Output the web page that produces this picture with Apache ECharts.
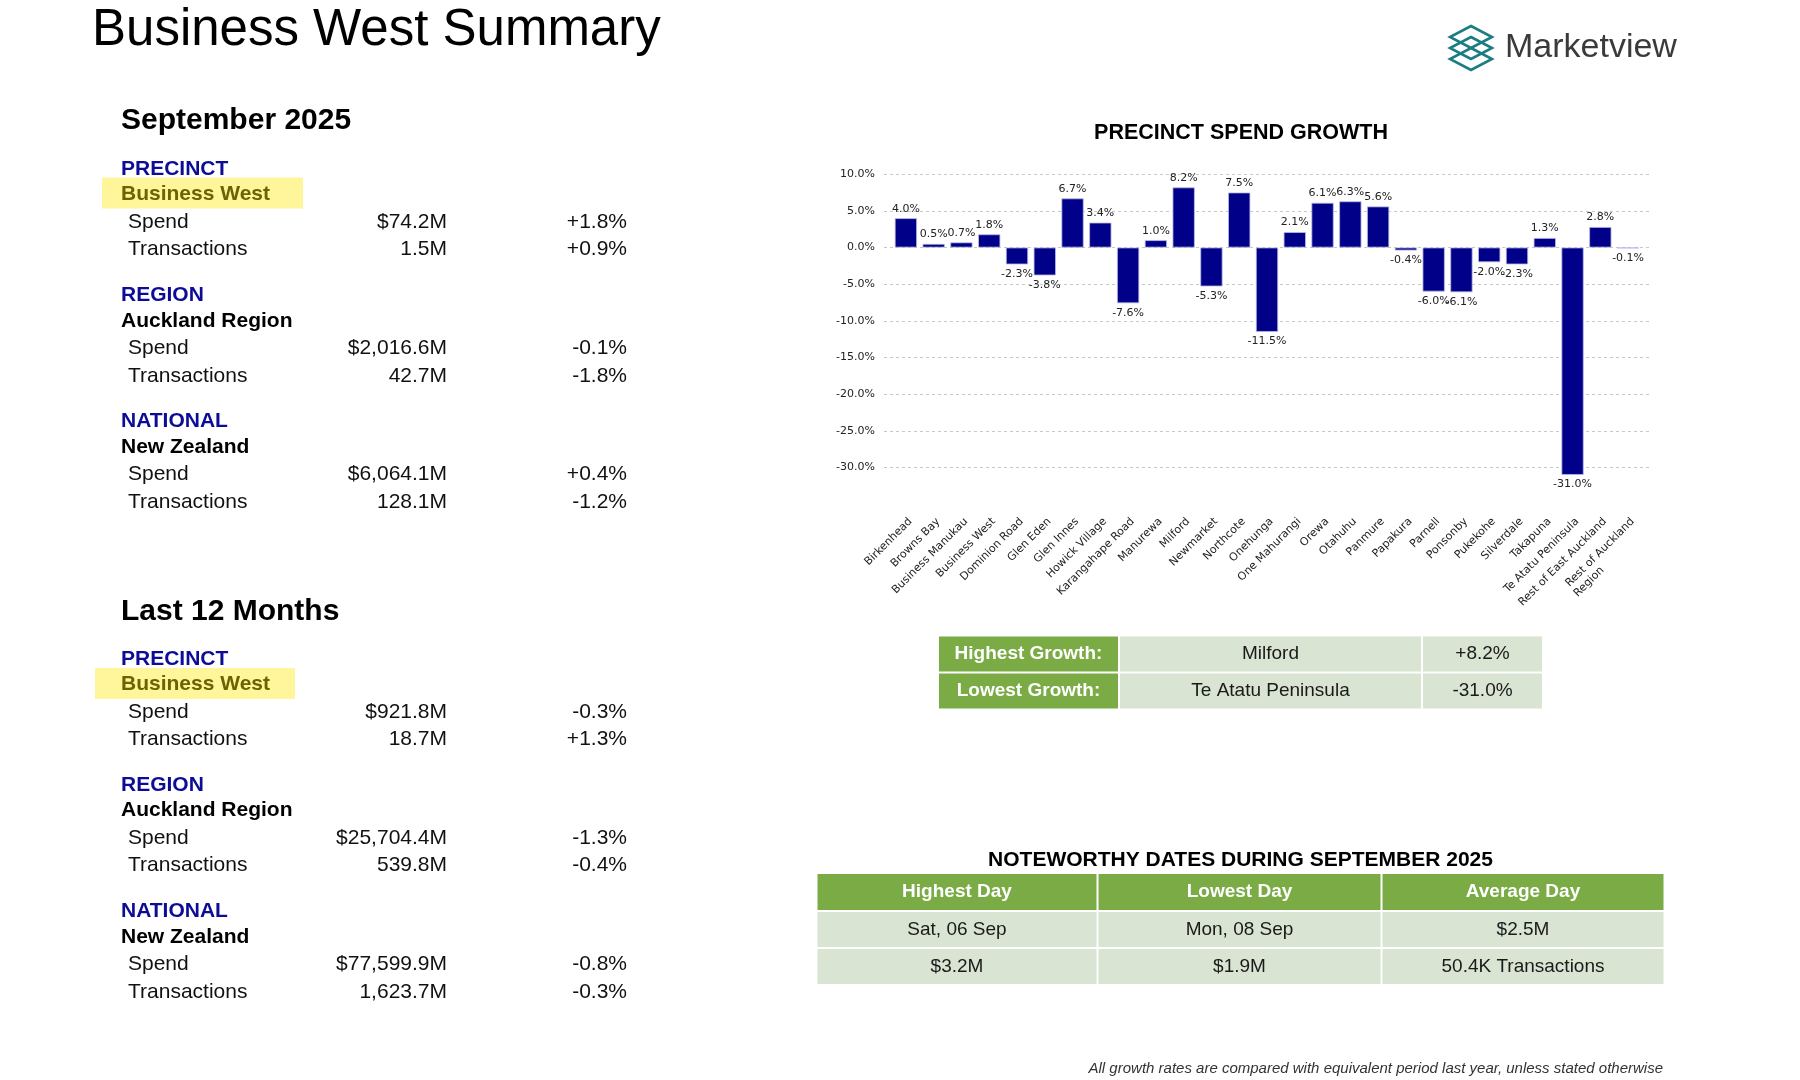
<!DOCTYPE html>
<html>
<head>
<meta charset="utf-8">
<script src="https://cdn.jsdelivr.net/npm/echarts@6/dist/echarts.min.js"></script>
<style>
html,body{margin:0;padding:0;background:#fff;}
#main{width:1800px;height:1080px;}
</style>
</head>
<body>
<div id="main"></div>
<script>
// ---------- DATA ----------
const categories = ['Birkenhead','Browns Bay','Business Manukau','Business West','Dominion Road','Glen Eden','Glen Innes','Howick Village','Karangahape Road','Manurewa','Milford','Newmarket','Northcote','Onehunga','One Mahurangi','Orewa','Otahuhu','Panmure','Papakura','Parnell','Ponsonby','Pukekohe','Silverdale','Takapuna','Te Atatu Peninsula','Rest of East Auckland','Rest of Auckland Region'];
const growth = [4.0,0.5,0.7,1.8,-2.3,-3.8,6.7,3.4,-7.6,1.0,8.2,-5.3,7.5,-11.5,2.1,6.1,6.3,5.6,-0.4,-6.0,-6.1,-2.0,-2.3,1.3,-31.0,2.8,-0.1];
const NB = '\u00a0';
const tickLabels = categories.map(c => c === 'Rest of Auckland Region'
  ? 'Rest of Auckland\nRegion' + NB.repeat(16)
  : c);

const sectionLabels = ['PRECINCT','REGION','NATIONAL'];
const areaNames = ['Business West','Auckland Region','New Zealand'];
const metricNames = ['Spend','Transactions'];
const septValues = [['$74.2M','1.5M'],['$2,016.6M','42.7M'],['$6,064.1M','128.1M']];
const septGrowth = [['+1.8%','+0.9%'],['-0.1%','-1.8%'],['+0.4%','-1.2%']];
const ltmValues = [['$921.8M','18.7M'],['$25,704.4M','539.8M'],['$77,599.9M','1,623.7M']];
const ltmGrowth = [['-0.3%','+1.3%'],['-1.3%','-0.4%'],['-0.8%','-0.3%']];

const growthTable = [['Highest Growth:','Milford','+8.2%'],['Lowest Growth:','Te Atatu Peninsula','-31.0%']];
const datesHeader = ['Highest Day','Lowest Day','Average Day'];
const datesRows = [['Sat, 06 Sep','Mon, 08 Sep','$2.5M'],['$3.2M','$1.9M','50.4K Transactions']];

// ---------- HELPERS ----------
const SANS = "'Liberation Sans', Arial, Helvetica, sans-serif";
const DJV = "'DejaVu Sans', sans-serif";
const GREEN = '#7aab45';
const LIGHT = '#d9e4d2';
const BLUE = '#0c0c96';
const g = [];
function txt(x, y, text, size, opts) {
  opts = opts || {};
  g.push({
    type: 'text', z: 10,
    style: {
      x: x, y: y, text: text,
      font: (opts.italic ? 'italic ' : '') + (opts.bold ? 'bold ' : '') + size + 'px ' + (opts.family || SANS),
      fill: opts.color || '#111',
      textAlign: opts.align || 'left',
      textVerticalAlign: 'middle'
    }
  });
}
function rect(x, y, w, h, fill) {
  g.push({type: 'rect', z: 5, shape: {x: x, y: y, width: w, height: h}, style: {fill: fill}});
}

// Title
txt(92, 31, 'Business West Summary', 51, {color: '#000'});

// Logo
const logoCy = [37, 48, 59];
logoCy.forEach(cy => {
  g.push({type: 'polygon', z: 10,
    shape: {points: [[1471, cy - 11], [1492, cy], [1471, cy + 11], [1450, cy]]},
    style: {fill: 'none', stroke: '#1b7d80', lineWidth: 2.6}});
});
txt(1505, 48, 'Marketview', 34, {color: '#3a3a3a'});

// Left panel sections
function section(title, titleY, base, values, growths, box) {
  txt(121, titleY, title, 30, {bold: true, color: '#000'});
  for (let i = 0; i < 3; i++) {
    const h = base + i * 126.3;
    txt(121, h, sectionLabels[i], 21, {bold: true, color: BLUE});
    if (i === 0) rect(box[0], box[1], box[2], box[3], '#fff59b');
    txt(121, h + 25.5, areaNames[i], 21, {bold: true, color: i === 0 ? '#6b6400' : '#000'});
    for (let j = 0; j < 2; j++) {
      const y = h + (j === 0 ? 53 : 80.5);
      txt(128, y, metricNames[j], 21, {color: '#111'});
      txt(447, y, values[i][j], 21, {color: '#111', align: 'right'});
      txt(627, y, growths[i][j], 21, {color: '#111', align: 'right'});
    }
  }
}
section('September 2025', 121, 169, septValues, septGrowth, [102, 177.5, 201, 31]);
section('Last 12 Months', 611.5, 658.8, ltmValues, ltmGrowth, [95, 668, 200, 31]);

// Chart title
txt(1241, 133, 'PRECINCT SPEND GROWTH', 21.5, {bold: true, color: '#000', align: 'center'});

// Growth table
const gCols = [938, 1119, 1422, 1543];
const gRows = [[636.5, 671.5], [673.5, 708.5]];
growthTable.forEach((row, r) => {
  row.forEach((cell, c) => {
    const x0 = gCols[c] + 1, x1 = gCols[c + 1] - 1;
    const y0 = gRows[r][0], y1 = gRows[r][1];
    rect(x0, y0, x1 - x0, y1 - y0, c === 0 ? GREEN : LIGHT);
    txt((x0 + x1) / 2, (y0 + y1) / 2, cell, 19, {bold: c === 0, color: c === 0 ? '#fff' : '#1a1a1a', align: 'center'});
  });
});

// Noteworthy dates
txt(1240.5, 860, 'NOTEWORTHY DATES DURING SEPTEMBER 2025', 21, {bold: true, color: '#000', align: 'center'});
const dCols = [816.5, 1097.5, 1381.5, 1664.5];
const dRows = [[874, 910], [912, 947], [949, 984]];
const dAll = [datesHeader].concat(datesRows);
dAll.forEach((row, r) => {
  row.forEach((cell, c) => {
    const x0 = dCols[c] + 1, x1 = dCols[c + 1] - 1;
    const y0 = dRows[r][0], y1 = dRows[r][1];
    rect(x0, y0, x1 - x0, y1 - y0, r === 0 ? GREEN : LIGHT);
    txt((x0 + x1) / 2, (y0 + y1) / 2, cell, 19, {bold: r === 0, color: r === 0 ? '#fff' : '#1a1a1a', align: 'center'});
  });
});

// Footnote
txt(1663, 1069, 'All growth rates are compared with equivalent period last year, unless stated otherwise', 15, {italic: true, color: '#333', align: 'right'});

// ---------- CHART ----------
const splitColors = ['rgba(0,0,0,0)'].concat(new Array(9).fill('#c8c8c8'));
const chart = echarts.init(document.getElementById('main'), null, {renderer: 'canvas'});
chart.setOption({
  backgroundColor: '#fff',
  animation: false,
  grid: [
    {left: 884, right: 151, top: 174.2, bottom: 575.8, containLabel: false},
    {left: 892, right: 158, top: 174.2, bottom: 575.8, containLabel: false}
  ],
  xAxis: [
    {type: 'category', gridIndex: 0, data: [''], show: false},
    {
      type: 'category', gridIndex: 1,
      data: tickLabels,
      axisLine: {show: false},
      axisTick: {show: false},
      axisLabel: {interval: 0, rotate: 45, fontSize: 11, fontFamily: DJV, color: '#222', margin: 11, lineHeight: 13, verticalAlign: 'top'}
    }
  ],
  yAxis: [
    {
      type: 'value', gridIndex: 0,
      min: -35, max: 10, interval: 5,
      axisLine: {show: false},
      axisTick: {show: false},
      axisLabel: {
        fontSize: 11, fontFamily: DJV, color: '#222', margin: 9,
        formatter: v => v === -35 ? '' : v.toFixed(1) + '%'
      },
      splitLine: {show: true, lineStyle: {type: [3, 3], color: splitColors, width: 1}}
    },
    {
      type: 'value', gridIndex: 1,
      min: -35, max: 10, interval: 5,
      show: false,
      splitLine: {show: false}
    }
  ],
  series: [{
    type: 'bar',
    xAxisIndex: 1, yAxisIndex: 1,
    barCategoryGap: '20%',
    itemStyle: {color: '#000088', borderColor: '#b9b9e3', borderWidth: 0.8},
    label: {
      show: true, fontSize: 11, fontFamily: DJV, color: '#222', distance: 4,
      formatter: p => p.value.toFixed(1) + '%'
    },
    data: growth.map(v => ({value: v, label: {position: v < 0 ? 'bottom' : 'top'}}))
  }],
  graphic: {elements: g}
});
</script>
</body>
</html>
